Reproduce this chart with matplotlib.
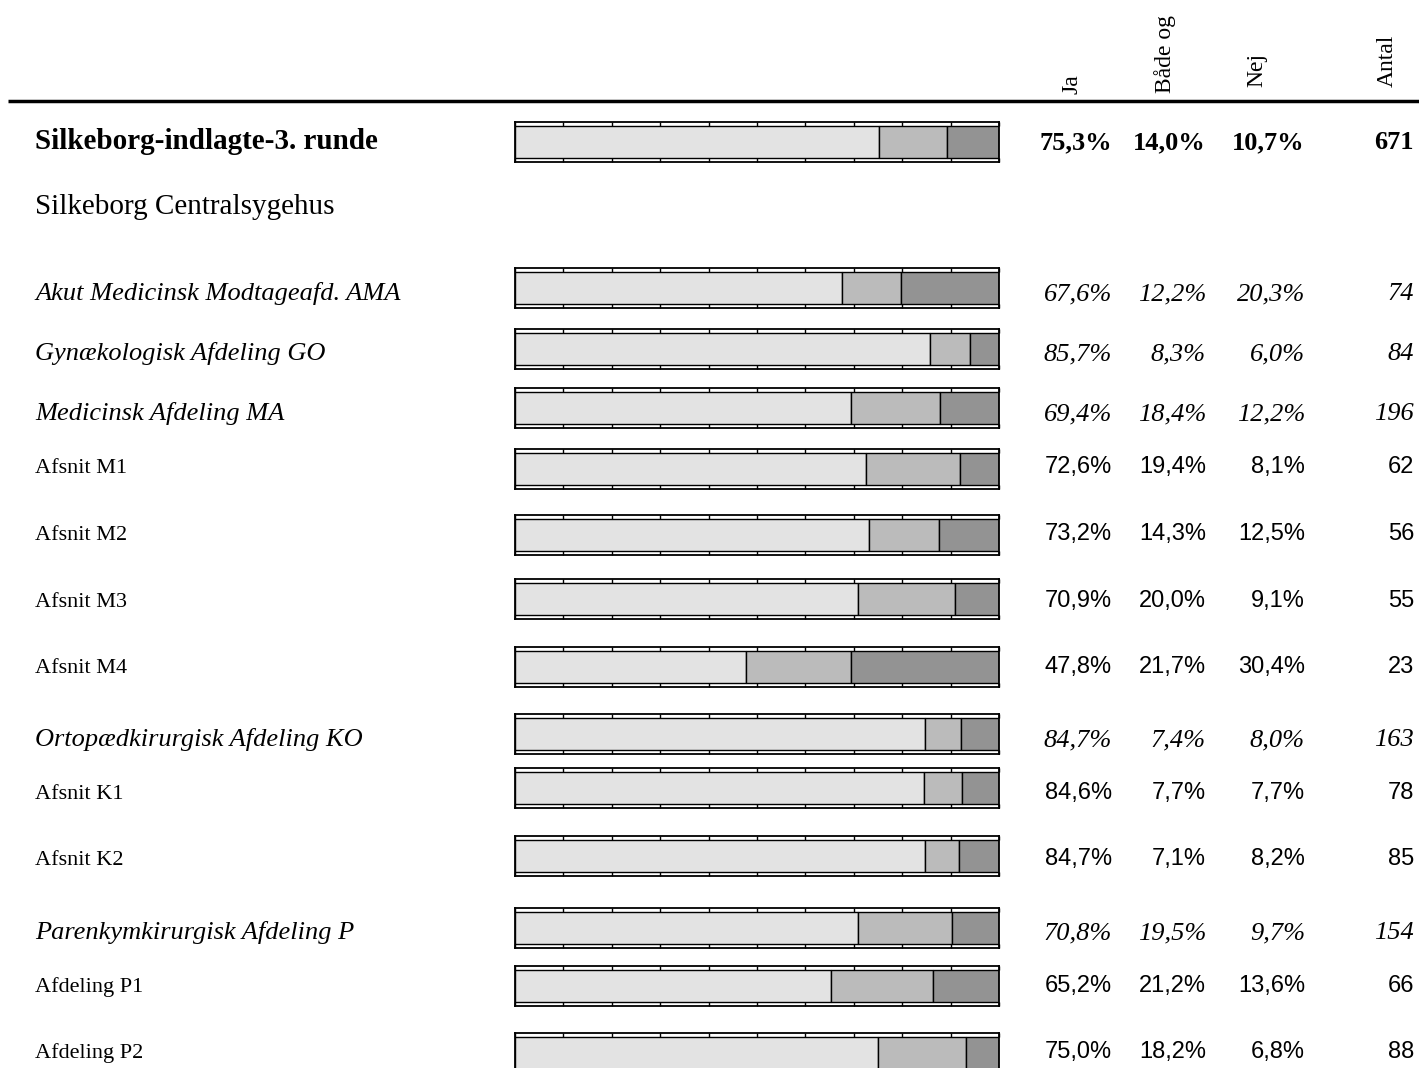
import numpy as np
import matplotlib.pyplot as plt

# data
labels = ['Silkeborg-indlagte-3. runde', 'Silkeborg Centralsygehus',
          'Akut Medicinsk Modtageafd. AMA', 'Gynækologisk Afdeling GO',
          'Medicinsk Afdeling MA', 'Afsnit M1', 'Afsnit M2', 'Afsnit M3',
          'Afsnit M4', 'Ortopædkirurgisk Afdeling KO', 'Afsnit K1',
          'Afsnit K2', 'Parenkymkirurgisk Afdeling P', 'Afdeling P1',
          'Afdeling P2']
levels = ['total', 'hosp', 'dept', 'dept', 'dept', 'sub', 'sub', 'sub',
          'sub', 'dept', 'sub', 'sub', 'dept', 'sub', 'sub']
ja = [75.3, None, 67.6, 85.7, 69.4, 72.6, 73.2, 70.9, 47.8, 84.7, 84.6,
      84.7, 70.8, 65.2, 75.0]
baade = [14.0, None, 12.2, 8.3, 18.4, 19.4, 14.3, 20.0, 21.7, 7.4, 7.7,
         7.1, 19.5, 21.2, 18.2]
nej = [10.7, None, 20.3, 6.0, 12.2, 8.1, 12.5, 9.1, 30.4, 8.0, 7.7, 8.2,
       9.7, 13.6, 6.8]
antal = [671, None, 74, 84, 196, 62, 56, 55, 23, 163, 78, 85, 154, 66, 88]
columns = ['Ja', 'Både og', 'Nej', 'Antal']

# layout (pixels)
W, H = 1419, 1068
bar_y = [142, None, 288, 349, 408, 469, 535, 599, 667, 734, 788, 856, 928,
         986, 1053]
text_y = [149, 214, 300, 360, 420, 473, 540, 607, 673, 746, 799, 865, 939,
          992, 1058]
bar_x0, bar_w, bar_h = 515, 484, 40
col_right = [1112, 1206, 1305, 1414]
head_x = [1072, 1165, 1257, 1387]
head_bottom = [94, 93, 87, 87]
colors = ['#e3e3e3', '#bbbbbb', '#939393']

serif = 'Liberation Serif'
sans = 'Liberation Sans'

fig = plt.figure(figsize=(W / 100, H / 100), dpi=100)
ax0 = fig.add_axes([0, 0, 1, 1])
ax0.set_xlim(0, W)
ax0.set_ylim(H, 0)
ax0.axis('off')

# header
for name, x, yb in zip(columns, head_x, head_bottom):
    ax0.text(x, yb, name, rotation=90, ha='center', va='bottom',
             family=serif, fontsize=17)
ax0.plot([8, W], [101, 101], color='black', lw=2.5, solid_capstyle='butt')

def fmt(v):
    return f'{v:.1f}'.replace('.', ',') + '%'

for i, lab in enumerate(labels):
    lev = levels[i]
    if lev == 'total':
        lkw = dict(family=serif, fontsize=21, weight='bold')
        nkw = dict(family=serif, fontsize=19, weight='bold')
    elif lev == 'hosp':
        lkw = dict(family=serif, fontsize=21)
        nkw = None
    elif lev == 'dept':
        lkw = dict(family=serif, fontsize=19, style='italic')
        nkw = dict(family=serif, fontsize=19, style='italic')
    else:
        lkw = dict(family=serif, fontsize=16)
        nkw = dict(family=sans, fontsize=17)
    ax0.text(35, text_y[i], lab, ha='left', va='baseline', **lkw)
    if ja[i] is None:
        continue
    vals = [fmt(ja[i]), fmt(baade[i]), fmt(nej[i]), str(antal[i])]
    for v, xr in zip(vals, col_right):
        ax0.text(xr, text_y[i], v, ha='right', va='baseline', **nkw)

    # stacked bar in its own small axes
    yc = bar_y[i]
    ax = fig.add_axes([bar_x0 / W, 1 - (yc + bar_h / 2) / H,
                       bar_w / W, bar_h / H])
    left = 0
    for v, c in zip([ja[i], baade[i], nej[i]], colors):
        ax.barh(0, v, left=left, height=1, color=c, edgecolor='black',
                linewidth=1)
        left += v
    pad = 4 / (bar_h - 8)
    ax.set_ylim(-0.5 - pad, 0.5 + pad)
    ax.set_xlim(0, 100)
    ax.set_xticks(np.arange(0, 101, 10))
    ax.set_yticks([])
    ax.tick_params(axis='x', direction='in', top=True, bottom=True,
                   length=3, width=1, labelbottom=False)
    for s in ax.spines.values():
        s.set_linewidth(1.3)

fig.savefig('out.png', dpi=100)
